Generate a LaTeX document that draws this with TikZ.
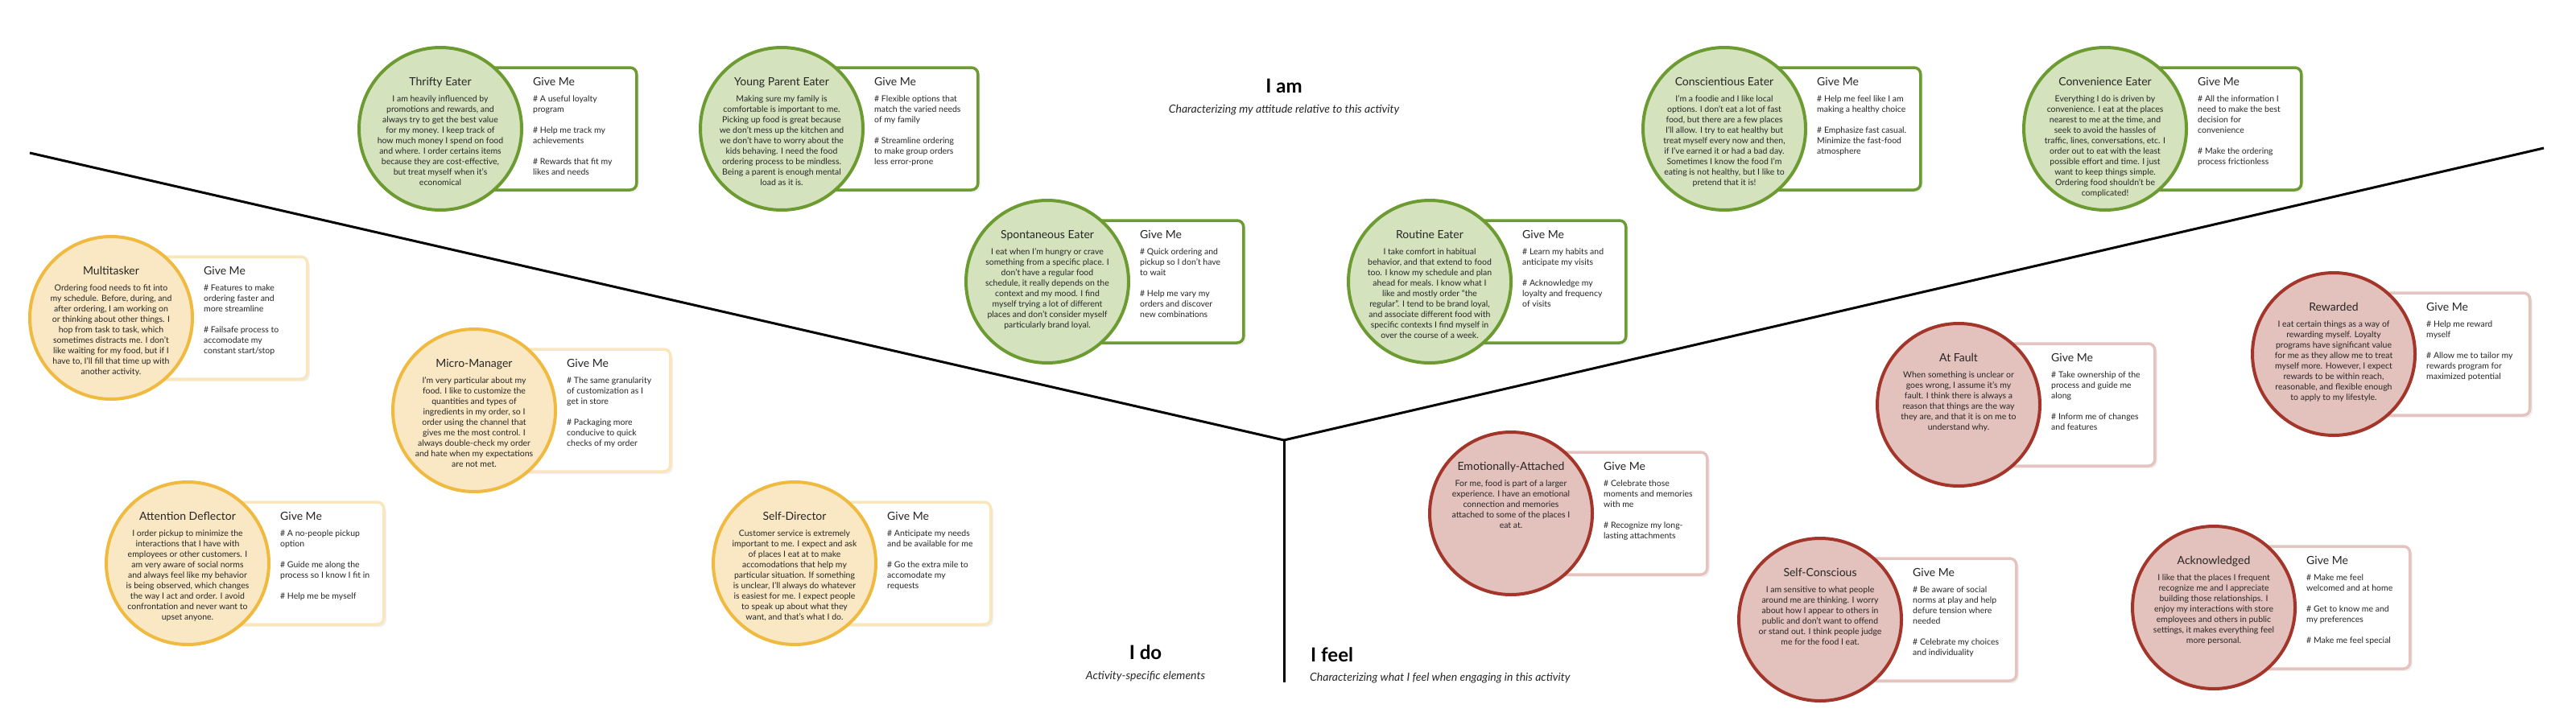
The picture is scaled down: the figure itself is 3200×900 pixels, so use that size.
\documentclass[tikz,border=0pt]{standalone}
\usepackage{fontspec}
\setmainfont{Lato}
\usetikzlibrary{calc,shadows}
\definecolor{gfill}{HTML}{D4E3BE}
\definecolor{gline}{HTML}{6C9B32}
\definecolor{yfill}{HTML}{FAE8C4}
\definecolor{yline}{HTML}{F0B93F}
\definecolor{yboxline}{HTML}{FBE5BA}
\definecolor{rfill}{HTML}{E3C1BC}
\definecolor{rline}{HTML}{A3352B}
\definecolor{rboxline}{HTML}{E5C3BF}
\definecolor{ink}{HTML}{262626}
\tikzset{
 circbase/.style={circle, minimum size=202pt, inner sep=0pt, line width=4pt},
 gcirc/.style={circbase, draw=gline, fill=gfill},
 ycirc/.style={circbase, draw=yline, fill=yfill},
 rcirc/.style={circbase, draw=rline, fill=rfill},
 boxbase/.style={rectangle, rounded corners=8pt, minimum width=242pt, minimum height=152pt, inner sep=0pt, line width=3.5pt, fill=white, drop shadow={shadow xshift=3pt, shadow yshift=-3pt, opacity=0.12}},
 gbox/.style={boxbase, draw=gline},
 ybox/.style={boxbase, draw=yboxline},
 rbox/.style={boxbase, draw=rboxline},
 ttl/.style={inner sep=0pt, text=ink, font=\fontsize{14}{16}\selectfont},
 bodytext/.style={inner sep=0pt, text=ink, align=center, font=\fontsize{10.5}{13}\selectfont},
 givetext/.style={inner sep=0pt, text=ink, align=left, font=\fontsize{10.5}{13}\selectfont},
 axisline/.style={line width=3pt, black},
 head/.style={inner sep=0pt, text=black, font=\bfseries\fontsize{24}{28}\selectfont},
 subhead/.style={inner sep=0pt, text=ink, font=\itshape\fontsize{14}{16}\selectfont},
}
\newcommand{\persona}[7]{%
  \node[#4box, anchor=west] (#1-box) at (#2,#3) {};
  \node[#4circ] (#1) at (#2,#3) {};
  \node[ttl, anchor=base] (#1-title) at ($(#2,#3)+(0,-54)$) {#5};
  \node[bodytext, anchor=north] (#1-text) at ($(#2,#3)+(0,-41.5)$) {#6};
  \node[ttl, anchor=base west] (#1-givehead) at ($(#2,#3)+(115,-54)$) {Give Me};
  \node[givetext, anchor=north west] (#1-give) at ($(#2,#3)+(115,-41.5)$) {#7};
}
\begin{document}
\begin{tikzpicture}[x=1pt,y=-1pt]
\useasboundingbox (0,0) rectangle (3200,900);
% axes
\coordinate (L) at (37,190);
\coordinate (C) at (1595,547);
\coordinate (R) at (3160,184);
\coordinate (B) at (1595,848);
\draw[axisline] (L) -- (C) -- (R);
\draw[axisline] (C) -- (B);
% headings
\node[head, anchor=base] (iam) at (1595,115) {I am};
\node[subhead, anchor=base] (iamsub) at (1595,140) {Characterizing my attitude relative to this activity};
\node[head, anchor=base] (ido) at (1423,819) {I do};
\node[subhead, anchor=base] (idosub) at (1423,844) {Activity-specific elements};
\node[head, anchor=base west] (ifeel) at (1628,822) {I feel};
\node[subhead, anchor=base west] (ifeelsub) at (1627,846) {Characterizing what I feel when engaging in this activity};
% I am (green)
\persona{thrifty}{547}{160}{g}{Thrifty Eater}
{I am heavily influenced by\\promotions and rewards, and\\always try to get the best value\\for my money. I keep track of\\how much money I spend on food\\and where. I order certains items\\because they are cost-effective,\\but treat myself when it's\\economical}
{\# A useful loyalty\\program\\[13pt]\# Help me track my\\achievements\\[13pt]\# Rewards that fit my\\likes and needs}
\persona{youngparent}{971}{160}{g}{Young Parent Eater}
{Making sure my family is\\comfortable is important to me.\\Picking up food is great because\\we don't mess up the kitchen and\\we don't have to worry about the\\kids behaving. I need the food\\ordering process to be mindless.\\Being a parent is enough mental\\load as it is.}
{\# Flexible options that\\match the varied needs\\of my family\\[13pt]\# Streamline ordering\\to make group orders\\less error-prone}
\persona{conscientious}{2142}{160}{g}{Conscientious Eater}
{I'm a foodie and I like local\\options. I don't eat a lot of fast\\food, but there are a few places\\I'll allow. I try to eat healthy but\\treat myself every now and then,\\if I've earned it or had a bad day.\\Sometimes I know the food I'm\\eating is not healthy, but I like to\\pretend that it is!}
{\# Help me feel like I am\\making a healthy choice\\[13pt]\# Emphasize fast casual.\\Minimize the fast-food\\atmosphere}
\persona{convenience}{2615}{160}{g}{Convenience Eater}
{Everything I do is driven by\\convenience. I eat at the places\\nearest to me at the time, and\\seek to avoid the hassles of\\traffic, lines, conversations, etc. I\\order out to eat with the least\\possible effort and time. I just\\want to keep things simple.\\Ordering food shouldn't be\\complicated!}
{\# All the information I\\need to make the best\\decision for\\convenience\\[13pt]\# Make the ordering\\process frictionless}
\persona{spontaneous}{1301}{350}{g}{Spontaneous Eater}
{I eat when I'm hungry or crave\\something from a specific place. I\\don't have a regular food\\schedule, it really depends on the\\context and my mood. I find\\myself trying a lot of different\\places and don't consider myself\\particularly brand loyal.}
{\# Quick ordering and\\pickup so I don't have\\to wait\\[13pt]\# Help me vary my\\orders and discover\\new combinations}
\persona{routine}{1776}{350}{g}{Routine Eater}
{I take comfort in habitual\\behavior, and that extend to food\\too. I know my schedule and plan\\ahead for meals. I know what I\\like and mostly order ``the\\regular''. I tend to be brand loyal,\\and associate different food with\\specific contexts I find myself in\\over the course of a week.}
{\# Learn my habits and\\anticipate my visits\\[13pt]\# Acknowledge my\\loyalty and frequency\\of visits}
% I do (yellow)
\persona{multitasker}{138}{395}{y}{Multitasker}
{Ordering food needs to fit into\\my schedule. Before, during, and\\after ordering, I am working on\\or thinking about other things. I\\hop from task to task, which\\sometimes distracts me. I don't\\like waiting for my food, but if I\\have to, I'll fill that time up with\\another activity.}
{\# Features to make\\ordering faster and\\more streamline\\[13pt]\# Failsafe process to\\accomodate my\\constant start/stop}
\persona{micromanager}{589}{510}{y}{Micro-Manager}
{I'm very particular about my\\food. I like to customize the\\quantities and types of\\ingredients in my order, so I\\order using the channel that\\gives me the most control. I\\always double-check my order\\and hate when my expectations\\are not met.}
{\# The same granularity\\of customization as I\\get in store\\[13pt]\# Packaging more\\conducive to quick\\checks of my order}
\persona{deflector}{233}{700}{y}{Attention Deflector}
{I order pickup to minimize the\\interactions that I have with\\employees or other customers. I\\am very aware of social norms\\and always feel like my behavior\\is being observed, which changes\\the way I act and order. I avoid\\confrontation and never want to\\upset anyone.}
{\# A no-people pickup\\option\\[13pt]\# Guide me along the\\process so I know I fit in\\[13pt]\# Help me be myself}
\persona{selfdirector}{987}{700}{y}{Self-Director}
{Customer service is extremely\\important to me. I expect and ask\\of places I eat at to make\\accomodations that help my\\particular situation. If something\\is unclear, I'll always do whatever\\is easiest for me. I expect people\\to speak up about what they\\want, and that's what I do.}
{\# Anticipate my needs\\and be available for me\\[13pt]\# Go the extra mile to\\accomodate my\\requests}
% I feel (red)
\persona{emotional}{1877}{638}{r}{Emotionally-Attached}
{For me, food is part of a larger\\experience. I have an emotional\\connection and memories\\attached to some of the places I\\eat at.}
{\# Celebrate those\\moments and memories\\with me\\[13pt]\# Recognize my long-\\lasting attachments}
\persona{selfconscious}{2261}{770}{r}{Self-Conscious}
{I am sensitive to what people\\around me are thinking. I worry\\about how I appear to others in\\public and don't want to offend\\or stand out. I think people judge\\me for the food I eat.}
{\# Be aware of social\\norms at play and help\\defure tension where\\needed\\[13pt]\# Celebrate my choices\\and individuality}
\persona{atfault}{2433}{503}{r}{At Fault}
{When something is unclear or\\goes wrong, I assume it's my\\fault. I think there is always a\\reason that things are the way\\they are, and that it is on me to\\understand why.}
{\# Take ownership of the\\process and guide me\\along\\[13pt]\# Inform me of changes\\and features}
\persona{rewarded}{2899}{440}{r}{Rewarded}
{I eat certain things as a way of\\rewarding myself. Loyalty\\programs have significant value\\for me as they allow me to treat\\myself more. However, I expect\\rewards to be within reach,\\reasonable, and flexible enough\\to apply to my lifestyle.}
{\# Help me reward\\myself\\[13pt]\# Allow me to tailor my\\rewards program for\\maximized potential}
\persona{acknowledged}{2750}{755}{r}{Acknowledged}
{I like that the places I frequent\\recognize me and I appreciate\\building those relationships. I\\enjoy my interactions with store\\employees and others in public\\settings, it makes everything feel\\more personal.}
{\# Make me feel\\welcomed and at home\\[13pt]\# Get to know me and\\my preferences\\[13pt]\# Make me feel special}
\end{tikzpicture}
\end{document}
